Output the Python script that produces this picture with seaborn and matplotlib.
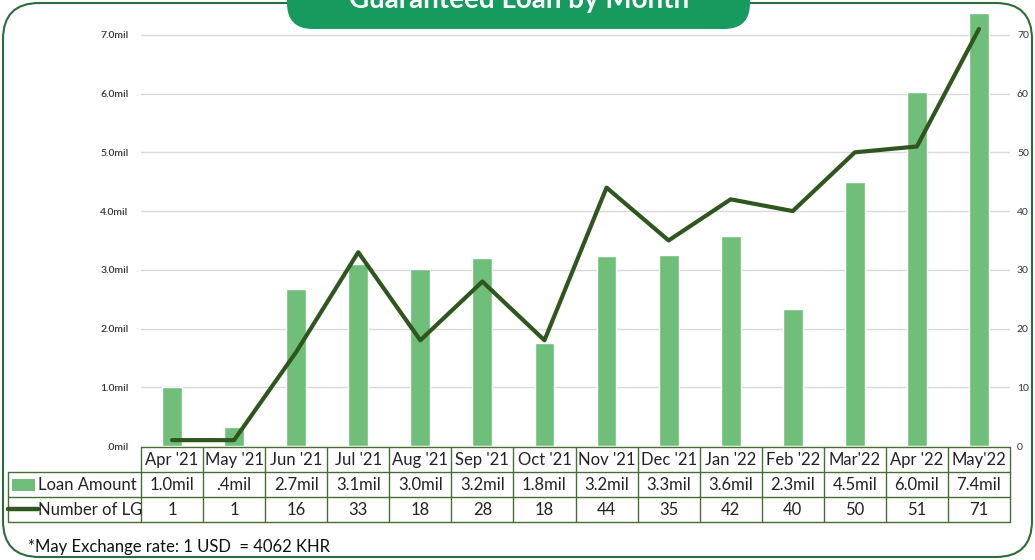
import numpy as np
import matplotlib
matplotlib.use("Agg")
import matplotlib.pyplot as plt
import matplotlib.transforms as mtransforms
from matplotlib.patches import FancyBboxPatch, Rectangle
import seaborn as sns

# 데이터
months = ["Apr '21", "May '21", "Jun '21", "Jul '21", "Aug '21", "Sep '21", "Oct '21",
          "Nov '21", "Dec '21", "Jan '22", "Feb '22", "Mar'22", "Apr '22", "May'22"]
loan_amount = [1.0, 0.33, 2.68, 3.1, 3.02, 3.2, 1.75, 3.24, 3.26, 3.58, 2.33, 4.49, 6.02, 7.37]
loan_labels = ["1.0mil", ".4mil", "2.7mil", "3.1mil", "3.0mil", "3.2mil", "1.8mil",
               "3.2mil", "3.3mil", "3.6mil", "2.3mil", "4.5mil", "6.0mil", "7.4mil"]
number_lg = [1, 1, 16, 33, 18, 28, 18, 44, 35, 42, 40, 50, 51, 71]
left_ticks = [0, 1, 2, 3, 4, 5, 6, 7]
left_tick_labels = [".0mil", "1.0mil", "2.0mil", "3.0mil", "4.0mil", "5.0mil", "6.0mil", "7.0mil"]
right_ticks = [0, 10, 20, 30, 40, 50, 60, 70]

BAR = "#6fbf7b"
LINE = "#2f561f"
GRID_C = "#4a6b35"
TITLE_BG = "#169a5e"

sns.set_style("white")
plt.rcParams['font.family'] = ['Lato', 'DejaVu Sans']

W, H = 1035, 560
fig = plt.figure(figsize=(W / 100, H / 100), dpi=100)

# 플롯 영역 (픽셀 기준)
x0, x1 = 141, 1010
y_top, y_bot = 11.4, 446
ax = fig.add_axes([x0 / W, 1 - y_bot / H, (x1 - x0) / W, (y_bot - y_top) / H])

sns.barplot(x=months, y=loan_amount, color=BAR, width=0.32, saturation=1, ax=ax, zorder=2)
ax.set_xlim(-0.5, len(months) - 0.5)
ax.set_ylim(0, 7.4)
ax.set_yticks(left_ticks)
ax.set_yticklabels(left_tick_labels, fontsize=7.5, color="#333333", fontweight="semibold")
ax.tick_params(axis="y", length=0, pad=9)
ax.set_xticks([])
ax.set_xlabel("")
ax.set_ylabel("")
ax.grid(axis="y", color="#d9d9d9", lw=1, zorder=0)
for s in ax.spines.values():
    s.set_visible(False)

# 오른쪽 축 (건수)
ax2 = ax.twinx()
sns.lineplot(x=np.arange(len(months)), y=number_lg, color=LINE, lw=3, ax=ax2, zorder=3)
ax2.set_ylim(0, 74)
ax2.set_yticks(right_ticks)
ax2.set_yticklabels([str(t) for t in right_ticks], fontsize=7.5, color="#333333")
ax2.tick_params(axis="y", length=0, pad=5)
for s in ax2.spines.values():
    s.set_visible(False)
ax2.set_xlim(-0.5, len(months) - 0.5)

# 표 그리기
def fy(py):
    return 1 - py / H

bt = mtransforms.blended_transform_factory(ax.transData, fig.transFigure)
rows_y = [447, 472, 497, 522]
n = len(months)
lkw = dict(color=GRID_C, lw=1, clip_on=False)
# 세로선
for k in range(n + 1):
    ax.plot([k - 0.5, k - 0.5], [fy(rows_y[0]), fy(rows_y[3])], transform=bt, **lkw)
# 가로선
ax.plot([-0.5, n - 0.5], [fy(rows_y[0])] * 2, transform=bt, **lkw)
for ry in rows_y[1:]:
    fig.add_artist(plt.Line2D([8 / W, x1 / W], [fy(ry)] * 2, color=GRID_C, lw=1))
fig.add_artist(plt.Line2D([8 / W, 8 / W], [fy(rows_y[1]), fy(rows_y[3])], color=GRID_C, lw=1))

for i in range(n):
    ax.text(i, fy(460), months[i], transform=bt, ha="center", va="center", fontsize=12, color="#222222")
    ax.text(i, fy(485), loan_labels[i], transform=bt, ha="center", va="center", fontsize=12, color="#222222")
    ax.text(i, fy(510), str(number_lg[i]), transform=bt, ha="center", va="center", fontsize=12, color="#222222")

# 범례 (표 안)
fig.add_artist(Rectangle((12 / W, fy(491)), 23 / W, 12 / H, color=BAR, lw=0))
fig.add_artist(plt.Line2D([8 / W, 38 / W], [fy(509)] * 2, color=LINE, lw=3.2))
fig.text(38 / W, fy(485), "Loan Amount", ha="left", va="center", fontsize=12, color="#222222")
fig.text(38 / W, fy(510), "Number of LG", ha="left", va="center", fontsize=12, color="#222222")

# 각주
fig.text(28 / W, fy(547), "*May Exchange rate: 1 USD  = 4062 KHR", ha="left", va="center",
         fontsize=12, color="#111111")

# 외곽 테두리
frame = FancyBboxPatch((3 / W, 3 / H), (W - 6) / W, (H - 6) / H,
                       boxstyle="round,pad=0,rounding_size=0.035", transform=fig.transFigure,
                       fill=False, ec="#2e6b3a", lw=1.5, mutation_aspect=W / H)
fig.add_artist(frame)

# 제목 박스 (원본처럼 위쪽이 잘려 있음)
tbox = FancyBboxPatch((287 / W, fy(29)), (750 - 287) / W, 60 / H,
                      boxstyle="round,pad=0,rounding_size=0.025", transform=fig.transFigure,
                      fc=TITLE_BG, ec="none", mutation_aspect=W / H)
fig.add_artist(tbox)
fig.text(519 / W, fy(8), "Guaranteed Loan by Month", ha="center", va="baseline",
         fontsize=20, fontweight="bold", color="white")

plt.savefig("out.png", dpi=100)
